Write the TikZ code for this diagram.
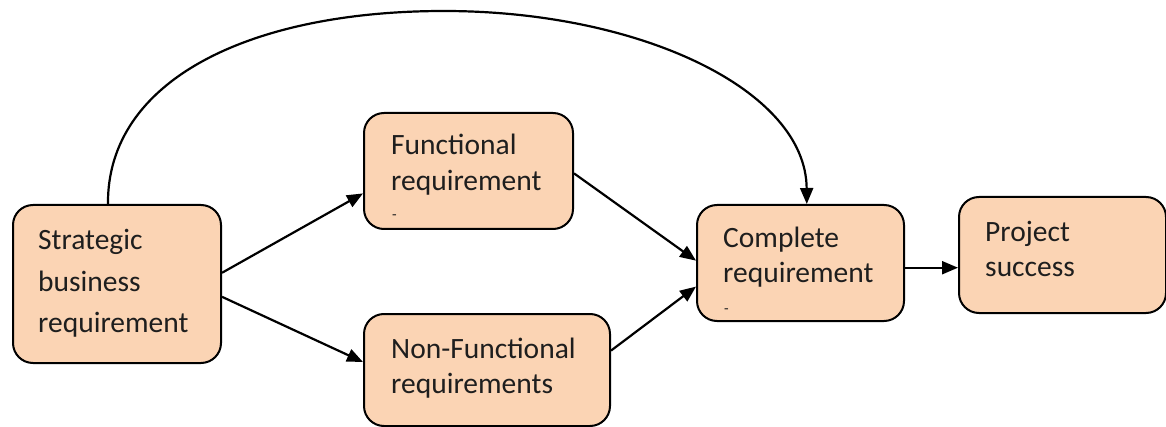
\documentclass[tikz,border=0pt]{standalone}
\usepackage{fontspec}
\setmainfont{Carlito}
\usetikzlibrary{arrows.meta,calc}
\definecolor{boxfill}{RGB}{251,212,180}
\definecolor{ink}{RGB}{30,30,30}

\begin{document}
\begin{tikzpicture}[x=1pt,y=-1pt,
  box/.style={draw=black, line width=2pt, fill=boxfill, rounded corners=20pt,
    inner sep=0pt, anchor=north west},
  lbl/.style={anchor=base west, inner sep=0pt, text=ink,
    font=\fontsize{29.5}{36}\selectfont},
  tick/.style={anchor=base west, inner sep=0pt, text=ink,
    font=\fontsize{15}{18}\selectfont},
  link/.style={draw=black, line width=2.2pt,
    -{Triangle[length=16pt,width=13pt]}}]

\useasboundingbox (0,0) rectangle (1166,427);

% boxes
\node[box, minimum width=208pt, minimum height=158pt] (strat) at (12,204) {};
\node[box, minimum width=209pt, minimum height=116pt] (func)  at (363,112) {};
\node[box, minimum width=246pt, minimum height=112pt] (nonf)  at (363,313) {};
\node[box, minimum width=207pt, minimum height=116pt] (comp)  at (696,204) {};
\node[box, minimum width=207pt, minimum height=116pt] (proj)  at (958,196) {};

% labels
\node[lbl] (s1) at (38,250) {Strategic};
\node[lbl] (s2) at (38,291) {business};
\node[lbl] (s3) at (38,332) {requirement};

\node[lbl]  (f1) at (391,155) {Functional};
\node[lbl]  (f2) at (391,191) {requirement};
\node[tick] (f3) at (392,220) {-};

\node[lbl] (n1) at (391,358) {Non-Functional};
\node[lbl] (n2) at (391,393) {requirements};

\node[lbl]  (c1) at (723,248) {Complete};
\node[lbl]  (c2) at (723,283) {requirement};
\node[tick] (c3) at (724,313) {-};

\node[lbl] (p1) at (985,242) {Project};
\node[lbl] (p2) at (985,277) {success};

% connectors
\draw[link] ($(strat.north east)!0.43!(strat.south east)$) --
            ($(func.north west)!0.69!(func.south west)$);
\draw[link] ($(strat.north east)!0.58!(strat.south east)$) --
            ($(nonf.north west)!0.43!(nonf.south west)$);
\draw[link] ($(func.north east)!0.52!(func.south east)$) --
            ($(comp.north west)!0.48!(comp.south west)$);
\draw[link] ($(nonf.north east)!0.33!(nonf.south east)$) --
            ($(comp.north west)!0.70!(comp.south west)$);
\coordinate (cp) at ($(comp.north east)!0.54!(comp.south east)$);
\draw[link] (cp) -- (cp -| proj.west);

% long arc over the top
\coordinate (sa) at ($(strat.north west)!0.457!(strat.north east)$);
\coordinate (ct) at ($(comp.north west)!0.53!(comp.north east)$);
\draw[link] (sa) .. controls (107,80) and (250,11) .. (444,11)
                 .. controls (640,11) and (806,90) .. (ct);
\end{tikzpicture}
\end{document}
